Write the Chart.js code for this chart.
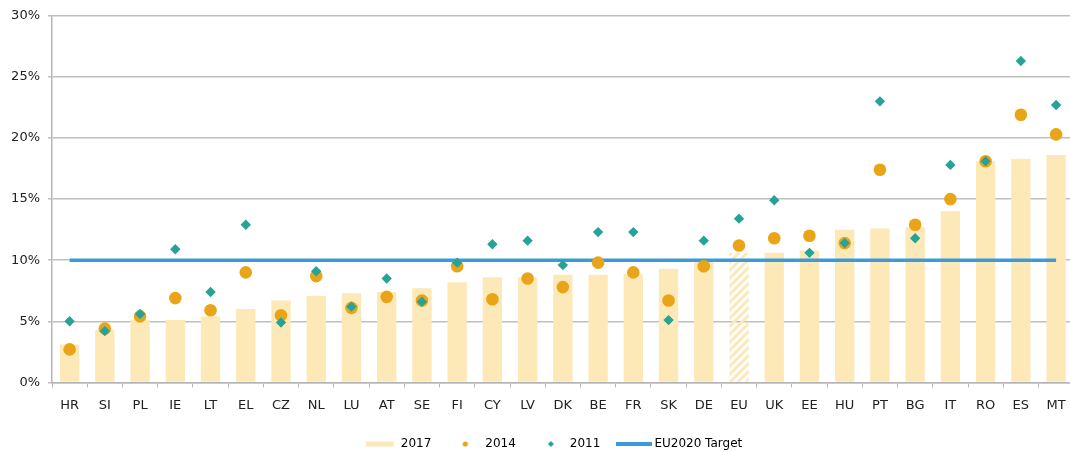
<!DOCTYPE html>
<html>
<head>
<meta charset="utf-8">
<script src="https://cdn.jsdelivr.net/npm/chart.js@4.4.0/dist/chart.umd.min.js"></script>
<style>
  html, body { margin: 0; padding: 0; background: #fff; overflow: hidden; }
  #wrap { width: 1080px; height: 452px; }
</style>
</head>
<body>
<div id="wrap"><canvas id="chart-bars"></canvas></div>
<script>
// chart data
const countries = ['HR','SI','PL','IE','LT','EL','CZ','NL','LU','AT','SE','FI','CY','LV','DK','BE','FR','SK','DE','EU','UK','EE','HU','PT','BG','IT','RO','ES','MT'];
const values2017 = [3.1,4.3,5.1,5.1,5.4,6.0,6.7,7.1,7.3,7.4,7.7,8.2,8.6,8.6,8.8,8.8,8.9,9.3,10.1,10.6,10.6,10.8,12.5,12.6,12.7,14.0,18.1,18.3,18.6];
const values2014 = [2.7,4.4,5.4,6.9,5.9,9.0,5.5,8.7,6.1,7.0,6.7,9.5,6.8,8.5,7.8,9.8,9.0,6.7,9.5,11.2,11.8,12.0,11.4,17.4,12.9,15.0,18.1,21.9,20.3];
const values2011 = [5.0,4.2,5.6,10.9,7.4,12.9,4.9,9.1,6.2,8.5,6.6,9.8,11.3,11.6,9.6,12.3,12.3,5.1,11.6,13.4,14.9,10.6,11.4,23.0,11.8,17.8,18.1,26.3,22.7];
const euTarget = 10;
const seriesNames = ['2017','2014','2011','EU2020 Target'];

const barColor = '#fde9b8';
const dotColor = '#e9a517';
const diamondColor = '#26a396';
const targetColor = '#3b9bd8';

let chartBars = document.getElementById('chart-bars').getContext('2d');

// diagonal hatch for the EU bar
function makeHatch() {
    let c = document.createElement('canvas');
    c.width = 8; c.height = 8;
    let x = c.getContext('2d');
    x.strokeStyle = barColor;
    x.lineWidth = 3;
    x.beginPath();
    x.moveTo(0, 8); x.lineTo(8, 0);
    x.moveTo(-4, 4); x.lineTo(4, -4);
    x.moveTo(4, 12); x.lineTo(12, 4);
    x.stroke();
    return chartBars.createPattern(c, 'repeat');
}

// small canvases used as legend markers
function legendMark(kind, color) {
    let c = document.createElement('canvas');
    c.width = kind === 'thinline' ? 36 : 29;
    c.height = 12;
    let x = c.getContext('2d');
    x.fillStyle = color;
    if (kind === 'line') {
        x.fillRect(0, 3.5, 28, 5);
    } else if (kind === 'thinline') {
        x.fillRect(0, 4, 36, 4);
    } else if (kind === 'dot') {
        x.beginPath(); x.arc(15, 6, 2.6, 0, Math.PI * 2); x.fill();
    } else {
        x.beginPath();
        x.moveTo(16, 3); x.lineTo(19, 6); x.lineTo(16, 9); x.lineTo(13, 6);
        x.closePath(); x.fill();
    }
    return c;
}

// nudge the legend to where it sits in the original
const legendShift = {
    id: 'legendShift',
    afterLayout(chart) {
        const lg = chart.legend;
        lg.left += 14; lg.right += 14;
        lg.top -= 4; lg.bottom -= 4;
    }
};

const hatch = makeHatch();
const marks = [legendMark('line', barColor), legendMark('dot', dotColor), legendMark('diamond', diamondColor), legendMark('thinline', targetColor)];

let barChart = new Chart(chartBars, {
    type: 'bar',
    data: {
        labels: countries,
        datasets: [{
            label: seriesNames[0],
            data: values2017,
            backgroundColor: countries.map(c => c === 'EU' ? hatch : barColor),
            barPercentage: 0.55,
            categoryPercentage: 1,
            order: 3
        }, {
            type: 'line',
            label: seriesNames[1],
            data: values2014,
            showLine: false,
            pointStyle: 'circle',
            pointRadius: 6.3,
            pointBackgroundColor: dotColor,
            pointBorderWidth: 0,
            borderColor: dotColor,
            order: 1
        }, {
            type: 'line',
            label: seriesNames[2],
            data: values2011,
            showLine: false,
            pointStyle: 'rectRot',
            pointRadius: 5.2,
            pointBackgroundColor: diamondColor,
            pointBorderWidth: 0,
            borderColor: diamondColor,
            order: 0
        }, {
            type: 'line',
            label: seriesNames[3],
            data: countries.map(() => euTarget),
            borderColor: targetColor,
            borderWidth: 3.5,
            pointRadius: 0,
            order: 2
        }]
    },
    options: {
        responsive: true,
        maintainAspectRatio: false,
        animation: false,
        layout: { padding: { left: 0, right: 0, top: 14, bottom: -12 } },
        plugins: {
            tooltip: { enabled: false },
            legend: {
                position: 'bottom',
                labels: {
                    usePointStyle: true,
                    pointStyleWidth: 29,
                    padding: 19,
                    color: '#222',
                    font: { family: 'DejaVu Sans', size: 12 },
                    generateLabels: chart => chart.data.datasets.map((ds, i) => ({
                        text: ds.label,
                        pointStyle: marks[i],
                        fillStyle: 'transparent',
                        strokeStyle: 'transparent',
                        lineWidth: 0,
                        datasetIndex: i
                    }))
                }
            }
        },
        scales: {
            x: {
                offset: true,
                grid: { display: true, drawOnChartArea: false, drawTicks: true, tickLength: 5, color: '#b5b5b5', offset: true },
                border: { color: '#b5b5b5', width: 1.5 },
                ticks: { color: '#222', padding: 10, font: { family: 'DejaVu Sans', size: 13 }, autoSkip: false, maxRotation: 0 }
            },
            y: {
                min: 0,
                max: 30,
                afterFit: scale => { scale.width = 52; },
                grid: { color: '#bfbfbf', lineWidth: 1.5, tickLength: 4 },
                border: { color: '#b5b5b5', width: 1.5 },
                ticks: { stepSize: 5, color: '#222', padding: 8, font: { family: 'DejaVu Sans', size: 13 }, callback: v => v + '%' }
            }
        }
    },
    plugins: [legendShift]
});
</script>
</body>
</html>
